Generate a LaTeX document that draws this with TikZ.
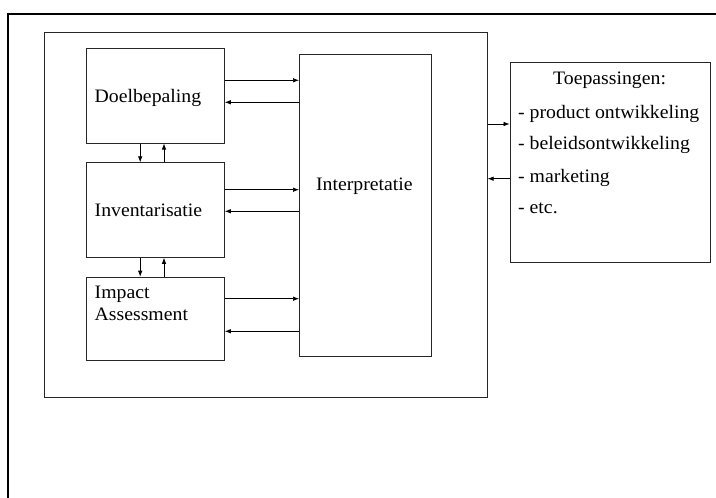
\documentclass[tikz,border=0pt]{standalone}
\usepackage{fontspec}
\setmainfont{Liberation Serif}[FakeStretch=1.04]
\usetikzlibrary{arrows.meta}

\tikzset{
  blok/.style={draw=black!85, line width=0.8pt, anchor=north west, inner sep=0pt},
  pijl/.style={-{Latex[length=6pt,width=4.5pt]}, line width=0.7pt},
  tekst/.style={font=\fontsize{19}{22}\selectfont, inner sep=0pt}
}

\begin{document}
\begin{tikzpicture}[x=1pt,y=-1pt]
\useasboundingbox (0,0) rectangle (716,498);

% outer frame
\draw[line width=1.6pt] (716,14) -- (8,14) -- (8,498);

% boxes
\node[blok, minimum width=442.5pt, minimum height=365pt] (kader) at (44.3,31.7) {};
\node[blok, minimum width=137.7pt, minimum height=95pt] (doel) at (86.3,47.7) {};
\node[blok, minimum width=137.7pt, minimum height=94.7pt] (inv) at (86.3,162.3) {};
\node[blok, minimum width=137.7pt, minimum height=83.6pt] (imp) at (86.3,276.7) {};
\node[blok, minimum width=131.6pt, minimum height=301.7pt] (interp) at (299,54.3) {};
\node[blok, minimum width=200pt, minimum height=200pt] (toep) at (509.6,62.3) {};

% texts
\node[tekst, anchor=base west] (tdoel) at (94.5,102.7) {Doelbepaling};
\node[tekst, anchor=base west] (tinv) at (94.5,216) {Inventarisatie};
\node[tekst, anchor=base west] (timp) at (94.5,298.3) {Impact};
\node[tekst, anchor=base west] (tass) at (94.5,320) {Assessment};
\node[tekst, anchor=base] (tinterp) at (364.4,190) {Interpretatie};
\node[tekst, anchor=base] (ttoep) at (609.6,84) {Toepassingen:};
\foreach \t/\y in {product ontwikkeling/118.3, beleidsontwikkeling/149, marketing/182, etc./213.3}
  \node[tekst, anchor=base west] at (518,\y) {- \t};

% arrows to and from Interpretatie
\foreach \a/\b in {doel/80.3, inv/189.7, imp/298.7}
  \draw[pijl] (\a.east |- 0,\b) -- (interp.west |- 0,\b);
\foreach \a/\b in {doel/102.3, inv/211.3, imp/331.3}
  \draw[pijl] (interp.west |- 0,\b) -- (\a.east |- 0,\b);

% arrows between the steps
\draw[pijl] (doel.south -| 140.2,0) -- (inv.north -| 140.2,0);
\draw[pijl] (inv.north -| 164,0) -- (doel.south -| 164,0);
\draw[pijl] (inv.south -| 140.2,0) -- (imp.north -| 140.2,0);
\draw[pijl] (imp.north -| 164,0) -- (inv.south -| 164,0);

% arrows to and from Toepassingen
\draw[pijl] (kader.east |- 0,124) -- (toep.west |- 0,124);
\draw[pijl] (toep.west |- 0,178.7) -- (kader.east |- 0,178.7);
\end{tikzpicture}
\end{document}
